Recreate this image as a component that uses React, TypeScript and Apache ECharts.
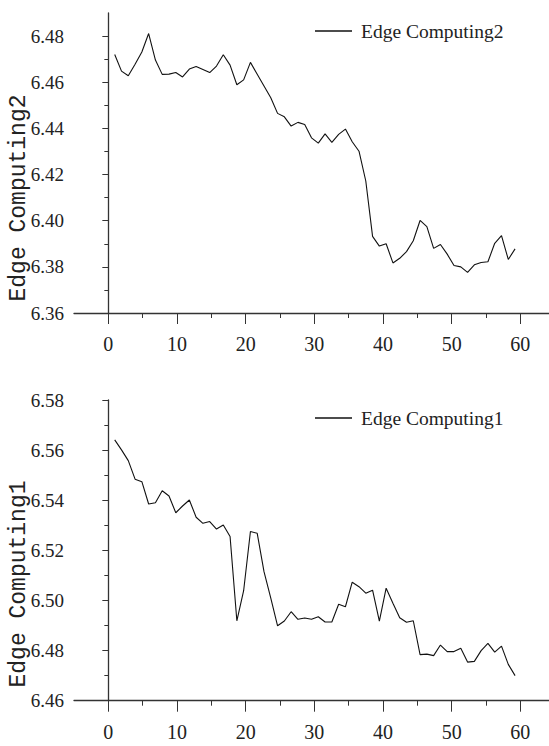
import React, { useEffect, useRef } from "react";
import * as echarts from "echarts";

// x values (iterations)
const iterations: number[] = Array.from({ length: 60 }, (_, i) => i + 1);

// Edge Computing2 (top panel)
const edge2: number[] = [
  6.472, 6.4648, 6.4628, 6.4678, 6.4731, 6.4811, 6.4696, 6.4634, 6.4635, 6.4642,
  6.4623, 6.4657, 6.4668, 6.4655, 6.4642, 6.467, 6.4719, 6.4674, 6.4589, 6.461,
  6.4686, 6.4635, 6.4584, 6.4533, 6.4465, 6.445, 6.441, 6.4426, 6.4417, 6.4359,
  6.4336, 6.4376, 6.4339, 6.4374, 6.4397, 6.4342, 6.4301, 6.4172, 6.3932, 6.389,
  6.39, 6.3817, 6.3837, 6.3866, 6.3913, 6.4001, 6.3974, 6.388, 6.3897, 6.3855,
  6.3806, 6.38, 6.3776, 6.3809, 6.3819, 6.3822, 6.3902, 6.3935, 6.3832, 6.3878,
];

// Edge Computing1 (bottom panel)
const edge1: number[] = [
  6.5641, 6.5601, 6.5558, 6.5484, 6.5474, 6.5385, 6.539, 6.5438, 6.5417, 6.535,
  6.5377, 6.5401, 6.5332, 6.5308, 6.5315, 6.5285, 6.5301, 6.5255, 6.4919, 6.5039,
  6.5275, 6.5268, 6.5115, 6.5009, 6.4899, 6.4918, 6.4955, 6.4925, 6.493, 6.4925,
  6.4935, 6.4914, 6.4914, 6.4985, 6.4975, 6.5073, 6.5055, 6.5029, 6.5041, 6.4918,
  6.5049, 6.4989, 6.4931, 6.4913, 6.4919, 6.4784, 6.4786, 6.478, 6.4822, 6.4796,
  6.4796, 6.4809, 6.4754, 6.4757, 6.48, 6.4829, 6.4794, 6.4818, 6.4745, 6.47,
];

// axis ranges / tick labels
const xTickRange = { min: 0, max: 60, step: 10 };
const xAxisExtent = { min: -5, max: 65 };
const topYTicks = { min: 6.36, max: 6.48, step: 0.02 };
const topYExtent = { min: 6.36, max: 6.49 };
const botYTicks = { min: 6.46, max: 6.58, step: 0.02 };
const botYExtent = { min: 6.46, max: 6.58 };

const NAME2 = "Edge Computing2";
const NAME1 = "Edge Computing1";

const FONT = '"Liberation Serif", "DejaVu Serif", serif';
const TITLE_FONT = '"Liberation Mono", "DejaVu Sans Mono", monospace';
const AX = "#333";

export default function App() {
  const ref = useRef<HTMLDivElement>(null);

  useEffect(() => {
    if (!ref.current) return;
    const chart = echarts.init(ref.current, undefined, { renderer: "svg" });

    const U = 412 / 60; // px per x unit
    const axisLeft = 74;
    const innerLeft = axisLeft + 5 * U;

    const top = { top: 13, height: 300 };
    const topPer = top.height / (topYExtent.max - topYExtent.min);
    const topInnerTop = top.top + (topYExtent.max - topYTicks.max) * topPer;
    const bot = { top: 400, height: 300.7 };

    const grids = [
      { left: axisLeft, top: top.top, width: 70 * U, height: top.height },
      { left: innerLeft, top: topInnerTop, width: 60 * U, height: top.top + top.height - topInnerTop },
      { left: axisLeft, top: bot.top, width: 70 * U, height: bot.height },
      { left: innerLeft, top: bot.top, width: 60 * U, height: bot.height },
    ];

    const outerX = (gi: number) => ({
      type: "value",
      gridIndex: gi,
      min: xAxisExtent.min,
      max: xAxisExtent.max,
      axisLine: { show: true, lineStyle: { color: AX, width: 1.3 } },
      axisTick: { show: false },
      axisLabel: { show: false },
      splitLine: { show: false },
    });
    const innerX = (gi: number) => ({
      type: "value",
      gridIndex: gi,
      min: xTickRange.min,
      max: xTickRange.max,
      interval: xTickRange.step,
      axisLine: { show: false },
      axisTick: { show: true, length: 11, lineStyle: { color: AX, width: 1 } },
      minorTick: { show: true, splitNumber: 2, length: 5, lineStyle: { color: AX, width: 1 } },
      axisLabel: { show: true, margin: 21, fontFamily: FONT, fontSize: 20, color: "#222" },
      splitLine: { show: false },
      minorSplitLine: { show: false },
    });
    const outerY = (gi: number, ext: { min: number; max: number }) => ({
      type: "value",
      gridIndex: gi,
      min: ext.min,
      max: ext.max,
      axisLine: { show: true, lineStyle: { color: AX, width: 1.3 } },
      axisTick: { show: false },
      axisLabel: { show: false },
      splitLine: { show: false },
    });
    const innerY = (gi: number, t: { min: number; max: number; step: number }) => ({
      type: "value",
      gridIndex: gi,
      min: t.min,
      max: t.max,
      interval: t.step,
      offset: innerLeft - axisLeft,
      axisLine: { show: false },
      axisTick: { show: true, length: 6, lineStyle: { color: AX, width: 1 } },
      minorTick: { show: true, splitNumber: 2, length: 4, lineStyle: { color: AX, width: 1 } },
      axisLabel: {
        show: true,
        margin: 10,
        fontFamily: FONT,
        fontSize: 19,
        color: "#222",
        formatter: (v: number) => v.toFixed(2),
      },
      splitLine: { show: false },
      minorSplitLine: { show: false },
    });

    const legendBase = {
      left: 315,
      padding: 0,
      itemWidth: 37,
      itemHeight: 1.4,
      itemGap: 0,
      icon: "rect",
      itemStyle: { color: "#111" },
      textStyle: { fontFamily: FONT, fontSize: 19.5, color: "#222", padding: [0, 0, 0, 4] },
    };

    chart.setOption({
      animation: false,
      backgroundColor: "#fff",
      grid: grids,
      xAxis: [outerX(0), innerX(1), outerX(2), innerX(3)],
      yAxis: [
        outerY(0, topYExtent),
        innerY(1, topYTicks),
        outerY(2, botYExtent),
        innerY(3, botYTicks),
      ],
      legend: [
        { ...legendBase, top: 21, data: [NAME2] },
        { ...legendBase, top: 408, data: [NAME1] },
      ],
      series: [
        {
          name: NAME2,
          type: "line",
          xAxisIndex: 0,
          yAxisIndex: 0,
          data: iterations.map((x, i) => [x, edge2[i]]),
          symbol: "none",
          lineStyle: { color: "#111", width: 1.1 },
          itemStyle: { color: "#111" },
        },
        {
          name: NAME1,
          type: "line",
          xAxisIndex: 2,
          yAxisIndex: 2,
          data: iterations.map((x, i) => [x, edge1[i]]),
          symbol: "none",
          lineStyle: { color: "#111", width: 1.1 },
          itemStyle: { color: "#111" },
        },
      ],
      graphic: [
        {
          type: "text",
          x: 19,
          y: 198,
          rotation: Math.PI / 2,
          style: {
            text: NAME2,
            fontFamily: TITLE_FONT,
            fontSize: 23,
            fill: "#222",
            align: "center",
            verticalAlign: "middle",
          },
        },
        {
          type: "text",
          x: 19,
          y: 584,
          rotation: Math.PI / 2,
          style: {
            text: NAME1,
            fontFamily: TITLE_FONT,
            fontSize: 23,
            fill: "#222",
            align: "center",
            verticalAlign: "middle",
          },
        },
      ],
    });

    return () => chart.dispose();
  }, []);

  return (
    <div
      ref={ref}
      style={{ position: "absolute", left: 0, top: 0, width: 549, height: 746 }}
    />
  );
}
